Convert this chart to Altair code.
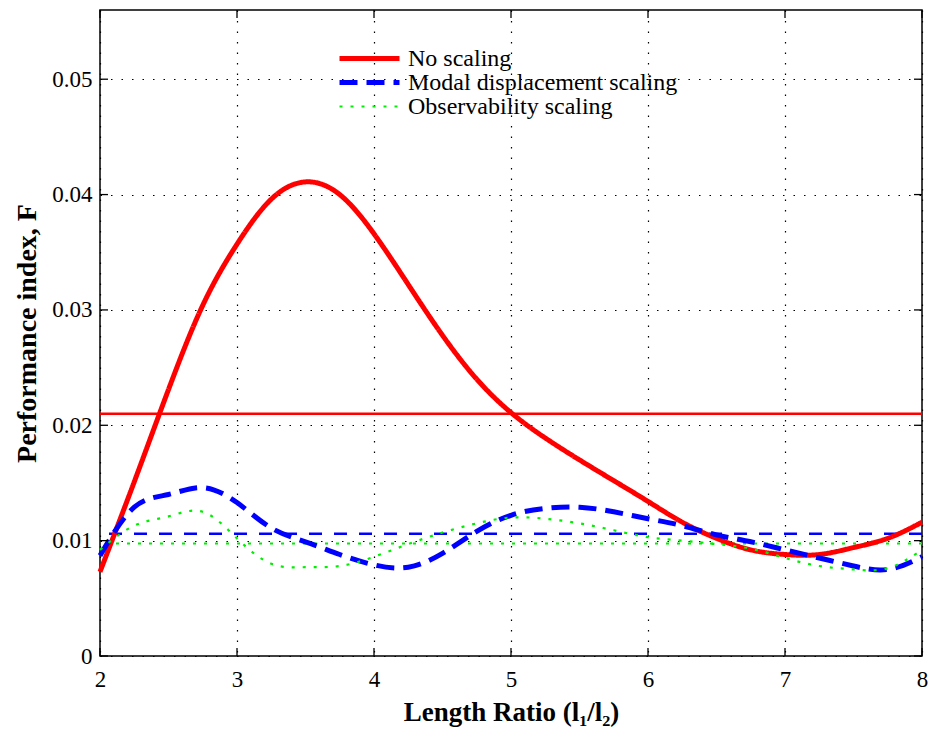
import altair as alt
import pandas as pd

# ---------------- data ----------------
x_vals = [2.0, 2.25, 2.5, 2.75, 3.0, 3.25, 3.5, 3.75, 4.0, 4.25, 4.5, 4.75, 5.0,
          5.25, 5.5, 5.75, 6.0, 6.25, 6.5, 6.75, 7.0, 7.25, 7.5, 7.75, 8.0]

no_scaling = [0.0073, 0.0151, 0.0231, 0.0304, 0.0357, 0.0396, 0.0411, 0.0400, 0.0366,
              0.0322, 0.0278, 0.0240, 0.0211, 0.0189, 0.0170, 0.0152, 0.0134, 0.0116,
              0.0102, 0.0092, 0.0088, 0.0088, 0.0094, 0.0102, 0.0116]

modal_scaling = [0.0087, 0.0129, 0.0140, 0.0146, 0.0133, 0.0111, 0.0099, 0.0088, 0.0079,
                 0.0077, 0.0089, 0.0108, 0.0122, 0.0128, 0.0129, 0.0125, 0.0119, 0.0113,
                 0.0105, 0.0099, 0.0092, 0.0085, 0.0078, 0.0075, 0.0086]

obs_scaling = [0.0092, 0.0113, 0.0121, 0.0125, 0.0102, 0.0080, 0.0077, 0.0078, 0.0086,
               0.0097, 0.0107, 0.0115, 0.0120, 0.0119, 0.0115, 0.0109, 0.0103, 0.0100,
               0.0097, 0.0093, 0.0085, 0.0078, 0.0075, 0.0076, 0.0092]

series_names = ["No scaling", "Modal displacement scaling", "Observability scaling"]
mean_values = [0.0210, 0.0106, 0.00975]

x_ticks = [2, 3, 4, 5, 6, 7, 8]
y_ticks = [0, 0.01, 0.02, 0.03, 0.04, 0.05]

# ---------------- styles ----------------
colors = ["#ff0000", "#0000ff", "#00ee00"]
curve_dash = [[1, 0], [18, 9], [3, 8]]
curve_width = [5, 5, 2.2]
mean_dash = [[1, 0], [13, 12], [3, 8]]
mean_width = [2.5, 2.5, 2]

FONT = "Liberation Serif"

rows = []
for name, ys in zip(series_names, [no_scaling, modal_scaling, obs_scaling]):
    for xv, yv in zip(x_vals, ys):
        rows.append({"x": xv, "y": yv, "series": name})
curves_df = pd.DataFrame(rows)

W, H = 822, 646
xscale = alt.Scale(domain=[2, 8], nice=False, zero=False)
yscale = alt.Scale(domain=[0, 0.056], nice=False, zero=False)

curves = alt.Chart(curves_df).mark_line(interpolate="natural", strokeCap="butt").encode(
    x=alt.X("x:Q", scale=xscale,
            axis=alt.Axis(values=x_ticks, format="d", title="Length Ratio (l₁/l₂)", grid=True,
                          gridDash=[1.5, 9], gridColor="#000000", gridWidth=1.2,
                          ticks=False, domain=False, labelFont=FONT, labelFontSize=23,
                          labelColor="#000", labelPadding=12, labelFlush=False,
                          titleFont=FONT, titleFontSize=27, titleFontWeight="bold",
                          titleColor="#000", titlePadding=8)),
    y=alt.Y("y:Q", scale=yscale,
            axis=alt.Axis(values=y_ticks, format=".2~f", title="Performance index, F",
                          grid=True, gridDash=[1.5, 9], gridColor="#000000", gridWidth=1.2,
                          ticks=False, domain=False, labelFont=FONT, labelFontSize=23,
                          labelColor="#000", labelPadding=8, labelFlush=False,
                          titleFont=FONT, titleFontSize=28, titleFontWeight="bold",
                          titleColor="#000", titlePadding=10)),
    color=alt.Color("series:N", sort=series_names,
                    scale=alt.Scale(domain=series_names, range=colors),
                    legend=alt.Legend(title=None, orient="none", legendX=237, legendY=37,
                                      symbolType="stroke", symbolSize=3600,
                                      labelFont=FONT, labelFontSize=24, labelColor="#000",
                                      labelOffset=6, rowPadding=-1.5, clipHeight=23,
                                      padding=0, labelLimit=500)),
    strokeDash=alt.StrokeDash("series:N", sort=series_names,
                              scale=alt.Scale(domain=series_names, range=curve_dash)),
    strokeWidth=alt.StrokeWidth("series:N", sort=series_names,
                                scale=alt.Scale(type="ordinal", domain=series_names,
                                                range=curve_width)),
)

mean_layers = []
for name, mv, c, d, w in zip(series_names, mean_values, colors, mean_dash, mean_width):
    mdf = pd.DataFrame({"y": [mv]})
    mean_layers.append(
        alt.Chart(mdf).mark_rule(color=c, strokeDash=d, strokeWidth=w).encode(
            y=alt.Y("y:Q", scale=yscale)
        )
    )

xt_df = pd.DataFrame({"t": x_ticks})
yt_df = pd.DataFrame({"t": y_ticks})
tick_style = dict(color="#000", strokeWidth=1.3)
ticks_bottom = alt.Chart(xt_df).mark_rule(**tick_style).encode(
    x=alt.X("t:Q", scale=xscale), y=alt.value(H), y2=alt.value(H - 8))
ticks_top = alt.Chart(xt_df).mark_rule(**tick_style).encode(
    x=alt.X("t:Q", scale=xscale), y=alt.value(0), y2=alt.value(8))
ticks_left = alt.Chart(yt_df).mark_rule(**tick_style).encode(
    y=alt.Y("t:Q", scale=yscale), x=alt.value(0), x2=alt.value(8))
ticks_right = alt.Chart(yt_df).mark_rule(**tick_style).encode(
    y=alt.Y("t:Q", scale=yscale), x=alt.value(W), x2=alt.value(W - 8))

chart = alt.layer(
    *mean_layers, curves, ticks_bottom, ticks_top, ticks_left, ticks_right
).properties(
    width=W, height=H,
    autosize=alt.AutoSizeParams(type="none"),
    padding={"left": 100, "top": 10, "right": 11, "bottom": 84},
    background="white",
).configure_view(
    stroke="#000000", strokeWidth=1.5
)

chart.save("out.html", embed_options={"renderer": "svg", "actions": False})
